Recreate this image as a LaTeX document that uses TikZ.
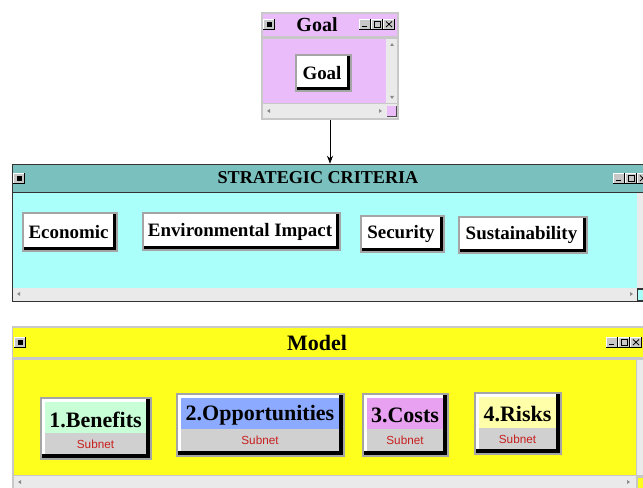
\documentclass[tikz,border=0pt]{standalone}
\usepackage{fontspec}
\setmainfont{Liberation Serif}
\newfontfamily\subfont{Liberation Sans}
\usetikzlibrary{arrows.meta,fit}
\definecolor{goalpink}{RGB}{234,188,250}
\definecolor{wingray}{RGB}{200,200,200}
\definecolor{barlight}{RGB}{234,234,234}
\definecolor{tealbar}{RGB}{122,192,190}
\definecolor{cyanbg}{RGB}{170,255,250}
\definecolor{yellowbg}{RGB}{255,255,30}
\definecolor{btngray}{RGB}{165,165,165}
\definecolor{subgray}{RGB}{208,208,208}
\definecolor{bengreen}{RGB}{200,255,215}
\definecolor{oppblue}{RGB}{140,170,255}
\definecolor{costpink}{RGB}{232,160,240}
\definecolor{riskyellow}{RGB}{255,255,170}
\definecolor{subred}{RGB}{200,30,30}
\definecolor{arrowgray}{RGB}{140,140,140}
\tikzset{
  wintitle/.style={font=\bfseries\fontsize{13.6}{16}\selectfont, inner sep=0},
  btntext/.style={font=\bfseries\fontsize{14.2}{16}\selectfont, inner sep=0},
  modtext/.style={font=\bfseries\fontsize{16.5}{18}\selectfont, inner sep=0},
  subtext/.style={font=\subfont\fontsize{8.8}{10}\selectfont, text=subred, inner sep=0},
  winframe/.style={inner sep=0, fit={#1}},
  link/.style={-{Stealth[length=6,width=4.5]}, line width=0.6},
}
\newcommand\plainbtn[6]{%
  \fill[btngray] (#2,#3) rectangle (#4,#5);
  \fill[black] ({#2+2},{#3+2}) rectangle ({#4-2},{#5-2});
  \fill[white] ({#2+2},{#3+2}) rectangle ({#4-5},{#5-5});
  \node[btntext] (#1) at ({(#2+#4)/2-1.5},{(#3+#5)/2}) {#6};}
\newcommand\modbtn[7]{%
  \fill[btngray] (#2,#3) rectangle (#4,#5);
  \fill[black] ({#2+2},{#3+2}) rectangle ({#4-2},{#5-2});
  \fill[white] ({#2+2},{#3+2}) rectangle ({#4-6},{#5-6});
  \fill[subgray] ({#2+5},{#3+5}) rectangle ({#4-6},{#5-6});
  \fill[#6] ({#2+5},{#3+5}) rectangle ({#4-6},{#3+36});
  \node[modtext] (#1) at ({(#2+#4)/2-0.5},{#3+22.5}) {#7};
  \node[subtext] (#1sub) at ({(#2+#4)/2-0.5},{(#3+30+#5)/2+0.5}) {Subnet};}
\newcommand\winbtns[2]{%
  \foreach \k in {0,1,2} {
    \fill[black] ({#1+12*\k},{#2}) rectangle ({#1+12*\k+12},{#2+11});
    \fill[white] ({#1+12*\k},{#2}) rectangle ({#1+12*\k+11},{#2+10});
    \fill[wingray] ({#1+12*\k+1},{#2+1}) rectangle ({#1+12*\k+11},{#2+10});
  }
  \draw[line width=1.1] ({#1+3},{#2+7.5}) -- ({#1+8},{#2+7.5});
  \draw[line width=0.6] ({#1+15},{#2+2.5}) rectangle ({#1+21},{#2+8});
  \draw[line width=0.6] ({#1+27},{#2+2.5}) -- ({#1+33},{#2+8}) ({#1+27},{#2+8}) -- ({#1+33},{#2+2.5});}
\newcommand\winicon[2]{%
  \fill[black] (#1,#2) rectangle ({#1+12},{#2+11});
  \fill[white] (#1,#2) rectangle ({#1+11},{#2+10});
  \fill[wingray] ({#1+1},{#2+1}) rectangle ({#1+11},{#2+10});
  \fill[black] ({#1+3.5},{#2+3}) rectangle ({#1+8.5},{#2+8});}
\begin{document}
\begin{tikzpicture}[x=0.75pt,y=-0.75pt]
\useasboundingbox (0,0) rectangle (643,488);
\fill[white] (0,0) rectangle (643,488);

% ---------- Goal window ----------
\fill[wingray] (261,12) rectangle (399,120);
\fill[goalpink] (263,14) rectangle (397,36);
\fill[goalpink] (263,39) rectangle (386,103);
\fill[barlight] (386,39) rectangle (397,103);
\fill[barlight] (263,104) rectangle (397,118);
\fill[goalpink] (387,106) rectangle (396,116);
\draw[black!70, line width=0.6] (387,116) -- (396,116) -- (396,106);
\fill[arrowgray] (392,43) -- (390,46) -- (394,46) -- cycle;
\fill[arrowgray] (392,99) -- (390,96) -- (394,96) -- cycle;
\fill[arrowgray] (267,111) -- (270,109) -- (270,113) -- cycle;
\fill[arrowgray] (382,111) -- (379,109) -- (379,113) -- cycle;
\winicon{263}{19}
\winbtns{359}{19}
\node[wintitle, font=\bfseries\fontsize{15}{17}\selectfont] (goaltitle) at (317,25) {Goal};
\plainbtn{goal}{295}{54}{352}{92}{Goal}
\node[winframe={(261,12)(399,120)}] (goalwin) {};

% ---------- Strategic criteria window ----------
\fill[black!80] (12,164) rectangle (643,302);
\fill[tealbar] (13,165) rectangle (643,192);
\fill[cyanbg] (13,193) rectangle (637,288);
\fill[barlight] (13,288) rectangle (637,301);
\fill[barlight] (637,193) rectangle (643,288);
\fill[cyanbg] (638,290) rectangle (643,300);
\fill[arrowgray] (17,294) -- (20,292) -- (20,296) -- cycle;
\fill[arrowgray] (633,294) -- (630,292) -- (630,296) -- cycle;
\winicon{13}{173}
\winbtns{613}{173}
\node[wintitle] (strattitle) at (318,178) {STRATEGIC CRITERIA};
\plainbtn{economic}{22}{212}{118}{252}{Economic}
\plainbtn{environ}{142}{212}{341}{251}{Environmental Impact}
\plainbtn{security}{360}{215}{445}{253}{Security}
\plainbtn{sustain}{458}{216}{588}{254}{Sustainability}
\node[winframe={(12,164)(643,302)}] (stratwin) {};

% ---------- Model window ----------
\fill[wingray] (12,326) rectangle (643,488);
\fill[yellowbg] (13,328) rectangle (643,357);
\fill[yellowbg] (14,360) rectangle (636,475);
\fill[barlight] (14,476) rectangle (636,488);
\fill[barlight] (637,360) rectangle (643,475);
\fill[yellowbg] (638,478) rectangle (643,488);
\fill[arrowgray] (18,482) -- (21,480) -- (21,484) -- cycle;
\fill[arrowgray] (630,482) -- (627,480) -- (627,484) -- cycle;
\winicon{14}{337}
\winbtns{606}{337}
\node[wintitle, font=\bfseries\fontsize{16.5}{18}\selectfont] (modeltitle) at (317,343) {Model};
\modbtn{benefits}{40}{397}{152}{460}{bengreen}{1.Benefits}
\modbtn{opport}{176}{393}{345}{457}{oppblue}{2.Opportunities}
\modbtn{costs}{362}{393}{449}{457}{costpink}{3.Costs}
\modbtn{risks}{474}{392}{562}{455}{riskyellow}{4.Risks}

% ---------- connector ----------
\draw[link] (goalwin.south) -- (goalwin.south |- stratwin.north);
\end{tikzpicture}
\end{document}
